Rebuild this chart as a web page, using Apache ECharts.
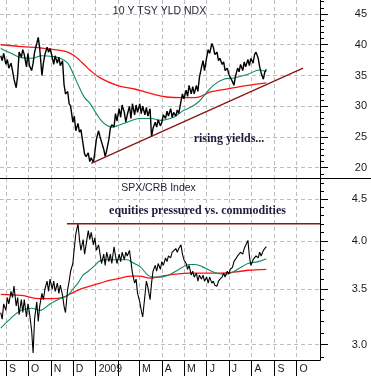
<!DOCTYPE html>
<html><head><meta charset="utf-8">
<script src="https://cdn.jsdelivr.net/npm/echarts@6/dist/echarts.min.js"></script>
<style>html,body{margin:0;padding:0;background:#fff}#c{width:371px;height:376px}</style>
</head><body><div id="c"></div>
<script>
// ---- shared trading days (sampled) ----
const days = ['2008-08-25','2008-08-27','2008-08-29',
'2008-09-01','2008-09-03','2008-09-05','2008-09-08','2008-09-10','2008-09-12','2008-09-15','2008-09-17','2008-09-19','2008-09-22','2008-09-24','2008-09-26','2008-09-29',
'2008-10-01','2008-10-03','2008-10-06','2008-10-08','2008-10-10','2008-10-13','2008-10-15','2008-10-17','2008-10-20','2008-10-22','2008-10-24','2008-10-27','2008-10-29','2008-10-31',
'2008-11-03','2008-11-05','2008-11-07','2008-11-10','2008-11-12','2008-11-14','2008-11-17','2008-11-19','2008-11-21','2008-11-24','2008-11-26','2008-11-28',
'2008-12-01','2008-12-03','2008-12-05','2008-12-08','2008-12-10','2008-12-12','2008-12-15','2008-12-17','2008-12-19','2008-12-22','2008-12-24','2008-12-26','2008-12-29','2008-12-31',
'2009-01-02','2009-01-05','2009-01-07','2009-01-09','2009-01-12','2009-01-14','2009-01-16','2009-01-19','2009-01-21','2009-01-23','2009-01-26','2009-01-28','2009-01-30',
'2009-02-02','2009-02-04','2009-02-06','2009-02-09','2009-02-11','2009-02-13','2009-02-16','2009-02-18','2009-02-20','2009-02-23','2009-02-25','2009-02-27',
'2009-03-02','2009-03-04','2009-03-06','2009-03-09','2009-03-11','2009-03-13','2009-03-16','2009-03-18','2009-03-20','2009-03-23','2009-03-25','2009-03-27','2009-03-30',
'2009-04-01','2009-04-03','2009-04-06','2009-04-08','2009-04-10','2009-04-13','2009-04-15','2009-04-17','2009-04-20','2009-04-22','2009-04-24','2009-04-27','2009-04-29',
'2009-05-01','2009-05-04','2009-05-06','2009-05-08','2009-05-11','2009-05-13','2009-05-15','2009-05-18','2009-05-20','2009-05-22','2009-05-25','2009-05-27','2009-05-29',
'2009-06-01','2009-06-03','2009-06-05','2009-06-08','2009-06-10','2009-06-12','2009-06-15','2009-06-17','2009-06-19','2009-06-22','2009-06-24','2009-06-26','2009-06-29',
'2009-07-01','2009-07-03','2009-07-06','2009-07-08','2009-07-10','2009-07-13','2009-07-15','2009-07-17','2009-07-20','2009-07-22','2009-07-24','2009-07-27','2009-07-29','2009-07-31',
'2009-08-03','2009-08-05','2009-08-07','2009-08-10','2009-08-12','2009-08-14','2009-08-17','2009-08-19','2009-08-21'];

// ---- 10 Y TSY YLD NDX ----
const yieldIdx = [38.2,37.4,38.6,
36.8,37.6,36.2,37.0,35.8,34.4,33.0,35.0,38.8,38.0,39.2,38.4,36.4,
38.6,36.6,35.8,37.0,38.8,40.2,41.2,39.4,35.0,37.0,38.4,39.6,38.8,39.4,
38.0,36.8,38.2,37.0,38.0,36.6,37.4,33.6,32.0,32.4,30.4,30.0,
27.4,28.4,26.0,27.2,25.8,26.2,23.8,22.2,21.8,22.4,21.0,21.6,20.8,22.6,
24.6,26.0,25.0,24.2,23.0,21.8,22.8,24.6,26.4,27.0,26.6,28.8,27.6,
29.6,28.2,30.2,29.0,27.4,28.6,30.0,28.0,30.4,28.6,30.2,29.0,
30.4,28.8,30.0,28.6,29.8,28.4,29.6,25.0,26.4,27.4,26.6,27.8,26.8,
27.4,28.6,28.0,29.2,28.4,29.6,28.2,29.0,28.4,29.4,28.8,30.8,32.0,
31.2,32.6,31.6,33.4,32.0,33.2,32.0,33.4,32.4,34.6,36.4,37.4,35.8,
38.0,39.2,38.6,40.2,39.6,38.4,38.8,37.4,37.8,36.8,37.2,35.8,36.2,
35.2,35.4,34.0,33.4,34.8,36.2,35.6,36.8,35.8,37.2,36.4,37.6,36.6,37.8,
37.0,38.4,38.8,37.8,36.4,35.4,34.4,35.6,36.0];

const yieldFastDates = ['2008-08-25','2008-09-08','2008-09-22','2008-10-06','2008-10-20','2008-11-03','2008-11-14','2008-11-24','2008-12-01','2008-12-10','2008-12-17','2008-12-24','2009-01-02','2009-01-09','2009-01-16','2009-01-23','2009-01-30','2009-02-13','2009-03-02','2009-03-18','2009-03-30','2009-04-17','2009-04-29','2009-05-08','2009-05-20','2009-05-29','2009-06-10','2009-06-24','2009-07-08','2009-07-27','2009-08-12','2009-08-21'];
const yieldFast = [39.4,38.6,37.9,37.8,38.2,38.1,37.8,37.0,35.4,33.0,31.4,30.5,28.8,27.6,26.9,26.6,26.8,27.4,28.0,28.0,27.7,28.2,29.2,29.7,30.6,31.8,33.4,34.4,34.6,35.2,35.9,35.6];

const yieldSlowDates = ['2008-08-25','2008-09-22','2008-10-17','2008-11-14','2008-11-24','2008-12-03','2008-12-10','2008-12-17','2008-12-24','2009-01-07','2009-01-30','2009-02-23','2009-03-16','2009-04-08','2009-04-27','2009-05-15','2009-05-22','2009-06-05','2009-06-19','2009-07-03','2009-07-27','2009-08-21'];
const yieldSlow = [40.0,39.7,39.5,39.1,38.8,38.2,37.5,36.7,35.9,34.6,33.4,32.8,32.1,31.5,31.4,31.4,31.5,32.3,32.6,32.9,33.4,33.8];

const yieldTrendDates = ['2008-12-26','2009-10-10'];
const yieldTrend = [20.7,36.2];

// ---- SPX/CRB Index ----
const spxCrb = [3.28,3.22,3.36,
3.30,3.42,3.36,3.48,3.42,3.53,3.34,3.42,3.26,3.40,3.28,3.40,3.24,
3.36,3.28,3.12,2.93,3.22,3.38,3.20,3.34,3.46,3.40,3.50,3.58,3.48,3.60,
3.50,3.58,3.48,3.56,3.46,3.54,3.44,3.34,3.28,3.50,3.58,3.68,
3.76,3.92,4.08,4.20,4.02,3.90,4.02,3.86,3.96,4.12,4.02,4.10,3.96,4.04,
3.90,3.96,3.86,3.76,3.86,3.74,3.88,3.78,3.86,3.76,3.94,3.84,3.76,
3.86,3.78,3.88,3.80,3.88,3.84,3.90,3.78,3.66,3.56,3.60,3.46,
3.38,3.30,3.24,3.44,3.58,3.52,3.40,3.56,3.68,3.74,3.68,3.76,3.70,
3.78,3.74,3.82,3.78,3.84,3.82,3.88,3.86,3.92,3.88,3.92,3.96,3.86,
3.80,3.76,3.70,3.74,3.64,3.68,3.62,3.66,3.58,3.64,3.60,3.64,3.58,
3.62,3.56,3.62,3.56,3.58,3.54,3.53,3.58,3.60,3.62,3.66,3.62,3.68,
3.65,3.70,3.72,3.78,3.76,3.84,3.82,3.88,3.86,3.92,3.94,4.01,3.84,3.74,
3.80,3.78,3.84,3.82,3.88,3.84,3.90,3.88,3.94];

const spxFastDates = ['2008-08-25','2008-09-08','2008-09-22','2008-10-06','2008-10-17','2008-10-31','2008-11-14','2008-11-24','2008-12-01','2008-12-08','2008-12-15','2008-12-22','2008-12-31','2009-01-07','2009-01-16','2009-01-30','2009-02-13','2009-02-20','2009-03-02','2009-03-13','2009-03-20','2009-03-30','2009-04-10','2009-04-20','2009-04-29','2009-05-08','2009-05-15','2009-05-25','2009-06-05','2009-06-15','2009-06-26','2009-07-03','2009-07-13','2009-07-27','2009-08-10','2009-08-21'];
const spxFast = [3.14,3.23,3.30,3.32,3.30,3.36,3.41,3.44,3.50,3.56,3.64,3.68,3.74,3.79,3.80,3.80,3.80,3.77,3.73,3.64,3.62,3.62,3.64,3.68,3.72,3.75,3.75,3.73,3.69,3.66,3.65,3.66,3.70,3.76,3.78,3.81];

const spxSlowDates = ['2008-08-25','2008-09-22','2008-10-17','2008-11-03','2008-11-17','2008-11-26','2008-12-05','2008-12-15','2008-12-24','2009-01-07','2009-01-21','2009-02-04','2009-02-18','2009-03-02','2009-03-16','2009-04-01','2009-04-20','2009-05-08','2009-06-01','2009-06-19','2009-07-08','2009-07-27','2009-08-21'];
const spxSlow = [3.45,3.44,3.41,3.41,3.42,3.45,3.48,3.51,3.53,3.56,3.59,3.61,3.63,3.63,3.61,3.63,3.65,3.66,3.66,3.66,3.67,3.69,3.70];

const spxResistDates = ['2008-11-23','2009-11-02'];
const spxResist = [4.2,4.2];

// ---- axis ticks / labels ----
const monthTicks = ['2008-09-01','2008-10-01','2008-11-01','2008-12-01','2009-01-01','2009-02-01','2009-03-01','2009-04-01','2009-05-01','2009-06-01','2009-07-01','2009-08-01','2009-09-01','2009-10-01'];
const monthLabels = ['S','O','N','D','2009','','M','A','M','J','J','A','S','O'];
const yieldTicks = [20,25,30,35,40,45];
const yieldMinor = [19,21,22,23,24,26,27,28,29,31,32,33,34,36,37,38,39,41,42,43,44,46,47];
const spxTicks = [3.0,3.5,4.0,4.5];
const spxMinor = [2.9,3.1,3.2,3.3,3.4,3.6,3.7,3.8,3.9,4.1,4.2,4.3,4.4,4.6,4.7];

const X_MIN = '2008-08-24', X_MAX = '2009-11-02';
const ts = s => { const p = s.split('-').map(Number); return Date.UTC(p[0], p[1] - 1, p[2]); };
const pair = (ds, vs) => ds.map((d, i) => [ts(d), vs[i]]);
const monthTs = monthTicks.map(ts);
const labelFor = v => { const i = monthTs.indexOf(v); return i >= 0 ? monthLabels[i] : ''; };
const grid = '#bdbdbd';
const dash = { color: grid, type: [4, 3], width: 1 };
const txt = '#1a1a1a';

const chart = echarts.init(document.getElementById('c'), null, { renderer: 'canvas' });
chart.setOption({
  animation: false,
  backgroundColor: '#fff',
  grid: [
    { left: 0, top: 0, width: 320, height: 178, containLabel: false, outerBoundsMode: 'none' },
    { left: 0, top: 178, width: 320, height: 182, containLabel: false, outerBoundsMode: 'none' }
  ],
  xAxis: [
    { type: 'value', gridIndex: 0, min: ts(X_MIN), max: ts(X_MAX),
      axisLine: { show: false },
      axisTick: { show: false, customValues: monthTs },
      axisLabel: { show: false, customValues: monthTs },
      splitLine: { show: true, lineStyle: dash } },
    { type: 'value', gridIndex: 1, min: ts(X_MIN), max: ts(X_MAX),
      axisLine: { show: true, lineStyle: { color: '#000', width: 1 } },
      axisTick: { show: true, customValues: monthTs, length: 16, lineStyle: { color: '#000' } },
      axisLabel: { show: true, customValues: monthTs, formatter: labelFor, align: 'left',
        padding: [0, 0, 0, 3], margin: 4, color: txt, fontSize: 10.5,
        fontFamily: 'Liberation Sans, Arial, sans-serif', hideOverlap: false },
      splitLine: { show: true, lineStyle: dash } }
  ],
  yAxis: [
    { type: 'value', gridIndex: 0, position: 'right', min: 18.32, max: 47.28,
      axisLine: { show: true, lineStyle: { color: '#000' } },
      axisTick: { show: true, customValues: yieldTicks, length: 8, lineStyle: { color: '#000' } },
      axisLabel: { show: true, customValues: yieldTicks, align: 'right', margin: 47, color: txt,
        fontSize: 11, fontFamily: 'Liberation Sans, Arial, sans-serif' },
      splitLine: { show: true, lineStyle: dash } },
    { type: 'value', gridIndex: 0, position: 'right', min: 18.32, max: 47.28,
      axisLine: { show: false },
      axisTick: { show: true, customValues: yieldMinor, length: 4, lineStyle: { color: '#000' } },
      axisLabel: { show: false }, splitLine: { show: false } },
    { type: 'log', gridIndex: 1, position: 'right', min: 2.874, max: 4.771, logBase: 10,
      axisLine: { show: true, lineStyle: { color: '#000' } },
      axisTick: { show: true, customValues: spxTicks, length: 8, lineStyle: { color: '#000' } },
      axisLabel: { show: true, customValues: spxTicks, align: 'right', margin: 47, color: txt,
        fontSize: 11, fontFamily: 'Liberation Sans, Arial, sans-serif',
        formatter: v => Number(v).toFixed(1) },
      splitLine: { show: true, lineStyle: dash } },
    { type: 'log', gridIndex: 1, position: 'right', min: 2.874, max: 4.771, logBase: 10,
      axisLine: { show: false },
      axisTick: { show: true, customValues: spxMinor, length: 4, lineStyle: { color: '#000' } },
      axisLabel: { show: false }, splitLine: { show: false } }
  ],
  series: [
    { name: 'yieldSlow', type: 'line', xAxisIndex: 0, yAxisIndex: 0, data: pair(yieldSlowDates, yieldSlow),
      showSymbol: false, smooth: 0.4, lineStyle: { color: '#ff1010', width: 1.3 }, z: 3 },
    { name: 'yieldFast', type: 'line', xAxisIndex: 0, yAxisIndex: 0, data: pair(yieldFastDates, yieldFast),
      showSymbol: false, smooth: 0.4, lineStyle: { color: '#0c8a68', width: 1.1 }, z: 3 },
    { name: 'yield', type: 'line', xAxisIndex: 0, yAxisIndex: 0, data: pair(days, yieldIdx),
      showSymbol: false, lineStyle: { color: '#000', width: 1.4 }, z: 4 },
    { name: 'yieldTrend', type: 'line', xAxisIndex: 0, yAxisIndex: 0, data: pair(yieldTrendDates, yieldTrend),
      showSymbol: false, lineStyle: { color: '#8b1414', width: 1.3 }, z: 5 },
    { name: 'spxSlow', type: 'line', xAxisIndex: 1, yAxisIndex: 2, data: pair(spxSlowDates, spxSlow),
      showSymbol: false, smooth: 0.4, lineStyle: { color: '#ff1010', width: 1.3 }, z: 3 },
    { name: 'spxFast', type: 'line', xAxisIndex: 1, yAxisIndex: 2, data: pair(spxFastDates, spxFast),
      showSymbol: false, smooth: 0.4, lineStyle: { color: '#0c8a68', width: 1.1 }, z: 3 },
    { name: 'spx', type: 'line', xAxisIndex: 1, yAxisIndex: 2, data: pair(days, spxCrb),
      showSymbol: false, lineStyle: { color: '#000', width: 1.1 }, z: 4 },
    { name: 'spxResist', type: 'line', xAxisIndex: 1, yAxisIndex: 2, data: pair(spxResistDates, spxResist),
      showSymbol: false, lineStyle: { color: '#8b1414', width: 1.3 }, z: 5 }
  ],
  graphic: [
    { type: 'line', shape: { x1: 0, y1: 178.5, x2: 371, y2: 178.5 }, style: { stroke: '#000', lineWidth: 1 }, z: 10 },
    { type: 'text', x: 159.5, y: 11, style: { text: '10 Y TSY YLD NDX', fill: '#2a2238', font: '10.5px "Liberation Sans", Arial, sans-serif', textAlign: 'center', textVerticalAlign: 'middle' }, z: 10 },
    { type: 'text', x: 158.5, y: 188, style: { text: 'SPX/CRB Index', fill: '#2a2238', font: '10.5px "Liberation Sans", Arial, sans-serif', textAlign: 'center', textVerticalAlign: 'middle' }, z: 10 },
    { type: 'text', x: 229, y: 139, style: { text: 'rising yields...', fill: '#1c1c3c', font: 'bold 12px "Liberation Serif", "Times New Roman", serif', textAlign: 'center', textVerticalAlign: 'middle' }, z: 10 },
    { type: 'text', x: 197.5, y: 211, style: { text: 'equities pressured vs. commodities', fill: '#1c1c3c', font: 'bold 12px "Liberation Serif", "Times New Roman", serif', textAlign: 'center', textVerticalAlign: 'middle' }, z: 10 }
  ]
});
</script></body></html>
